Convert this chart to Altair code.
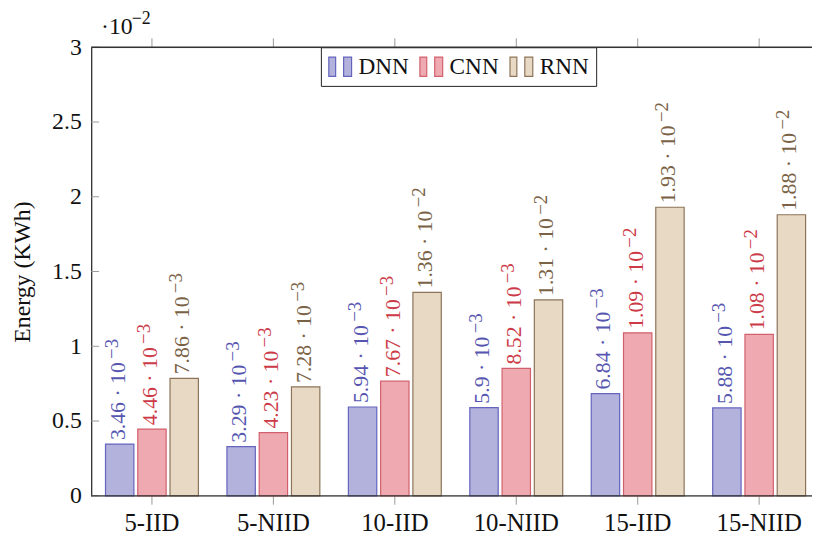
import altair as alt
import pandas as pd

# ---- data (values in units of 10^-2 KWh) ----
CATEGORIES = ["5-IID", "5-NIID", "10-IID", "10-NIID", "15-IID", "15-NIID"]
MODELS = ["DNN", "CNN", "RNN"]
DNN = [0.346, 0.329, 0.594, 0.590, 0.684, 0.588]
CNN = [0.446, 0.423, 0.767, 0.852, 1.09, 1.08]
RNN = [0.786, 0.728, 1.36, 1.31, 1.93, 1.88]
DNN_MANT = ["3.46", "3.29", "5.94", "5.9", "6.84", "5.88"]
CNN_MANT = ["4.46", "4.23", "7.67", "8.52", "1.09", "1.08"]
RNN_MANT = ["7.86", "7.28", "1.36", "1.31", "1.93", "1.88"]
DNN_EXP = ["−3", "−3", "−3", "−3", "−3", "−3"]
CNN_EXP = ["−3", "−3", "−3", "−3", "−2", "−2"]
RNN_EXP = ["−3", "−3", "−2", "−2", "−2", "−2"]
Y_TICKS = [0, 0.5, 1, 1.5, 2, 2.5, 3]
SCALE_BASE = "·10"
SCALE_EXP = "−2"

FILL = ["#b2b2dc", "#eeaab0", "#e8d9c4"]
STROKE = ["#6464be", "#d2606c", "#8c7458"]
TEXT = ["#5656b0", "#cc3a48", "#7a6246"]

FONT = "Liberation Serif"
W, H = 728, 453
XRANGE = 736   # the axis box continues past the right edge of the picture
LFS = 22      # bar label font size
SFS = 19      # superscript font size

rows = []
for m, vals, mants, exps in [("DNN", DNN, DNN_MANT, DNN_EXP), ("CNN", CNN, CNN_MANT, CNN_EXP),
                             ("RNN", RNN, RNN_MANT, RNN_EXP)]:
    for c, v, mt, e in zip(CATEGORIES, vals, mants, exps):
        rows.append({"cat": c, "model": m, "value": v, "mant": mt, "main": mt + " · 10", "exp": e})
df = pd.DataFrame(rows)

XSCALE = alt.Scale(domain=CATEGORIES, paddingInner=0.235, paddingOuter=0.118, range=[0, XRANGE])


def xenc():
    return alt.X("cat:N", sort=CATEGORIES, scale=XSCALE, axis=None)


def xoff():
    return alt.XOffset("model:N", sort=MODELS,
                       scale=alt.Scale(domain=MODELS, paddingInner=0.12, paddingOuter=0))


ys = alt.Y("value:Q",
           scale=alt.Scale(domain=[0, 3], nice=False),
           axis=alt.Axis(title="Energy (KWh)", titleFont=FONT, titleFontSize=24, titleFontWeight="normal",
                         titleColor="#111", titlePadding=17,
                         values=Y_TICKS, format="~g", labelFont=FONT, labelFontSize=24,
                         labelColor="#111", ticks=False, labelPadding=10, grid=False,
                         domainColor="#333", domainWidth=1.3))

legend_cfg = dict(title=None, orient="none", legendX=232, legendY=0, direction="horizontal",
                  symbolType="M-1,-0.85H-0.4V0.85H-1Z M0.3,-0.85H1V0.85H0.3Z",
                  symbolSize=529, symbolStrokeWidth=1.2,
                  labelFont=FONT, labelFontSize=23.5, labelColor="#111",
                  labelOffset=6, columnPadding=8, padding=7,
                  labelExpr="datum.label == 'RNN' ? 'RNN\u2002' : datum.label",
                  strokeColor="#222", fillColor="white")

bars = alt.Chart(df).mark_bar(strokeWidth=1.2).encode(
    x=xenc(), xOffset=xoff(), y=ys,
    fill=alt.Fill("model:N", scale=alt.Scale(domain=MODELS, range=FILL), legend=alt.Legend(**legend_cfg)),
    stroke=alt.Stroke("model:N", scale=alt.Scale(domain=MODELS, range=STROKE), legend=alt.Legend(**legend_cfg)),
)

label_color = alt.Color("model:N", scale=alt.Scale(domain=MODELS, range=TEXT), legend=None)

labels = alt.Chart(df).mark_text(angle=270, align="left", baseline="middle", dx=4, dy=-2,
                                 font=FONT, fontSize=LFS).encode(
    x=xenc(), xOffset=xoff(), y="value:Q",
    text="main:N", color=label_color,
)

sup_dx = f"4 + {LFS}*((length(datum.mant)-1)*0.5 + 0.25 + 1.75) + 5"
sups = alt.Chart(df).mark_text(angle=270, align="left", baseline="middle",
                               dx=alt.ExprRef(sup_dx), dy=-8,
                               font=FONT, fontSize=SFS).encode(
    x=xenc(), xOffset=xoff(), y="value:Q",
    text="exp:N", color=label_color,
)

ytick_df = pd.DataFrame({"t": Y_TICKS})
yticks = alt.Chart(ytick_df).mark_rule(color="#999", strokeWidth=1).encode(
    y="t:Q", x=alt.value(0), x2=alt.value(8))

cat_df = pd.DataFrame({"cat": CATEGORIES})
top_ticks = alt.Chart(cat_df).mark_rule(color="#999", strokeWidth=1).encode(
    x=xenc(), y=alt.value(-9), y2=alt.value(0))
bottom_ticks = alt.Chart(cat_df).mark_rule(color="#999", strokeWidth=1).encode(
    x=xenc(), y=alt.value(H), y2=alt.value(H + 9))
xlabels = alt.Chart(cat_df).mark_text(align="center", baseline="alphabetic", font=FONT,
                                      fontSize=25, color="#111").encode(
    x=xenc(), y=alt.value(H + 36), text="cat:N")

frame_df = pd.DataFrame({"f": [0]})
top_line = alt.Chart(frame_df).mark_rule(color="#333", strokeWidth=1.3).encode(
    x=alt.value(0), x2=alt.value(W), y=alt.value(0))
bottom_line = alt.Chart(frame_df).mark_rule(color="#333", strokeWidth=1.3).encode(
    x=alt.value(0), x2=alt.value(W), y=alt.value(H))

scale_df = pd.DataFrame({"b": [SCALE_BASE], "e": [SCALE_EXP]})
scale_base = alt.Chart(scale_df).mark_text(align="left", baseline="alphabetic", font=FONT,
                                           fontSize=24, color="#111").encode(
    text="b:N", x=alt.value(10), y=alt.value(-13))
scale_exp = alt.Chart(scale_df).mark_text(align="left", baseline="alphabetic", font=FONT,
                                          fontSize=18, color="#111").encode(
    text="e:N", x=alt.value(41), y=alt.value(-23))

chart = alt.layer(yticks, top_ticks, bottom_ticks, bars, labels, sups, xlabels,
                  top_line, bottom_line, scale_base, scale_exp).resolve_scale(
    color="independent"
).properties(
    width=W, height=H,
    autosize=alt.AutoSizeParams(type="none"),
    padding={"left": 84, "top": 37, "right": 0, "bottom": 44},
).configure_view(stroke=None).configure(background="white")

chart.save("out.html", embed_options={"renderer": "svg", "actions": False})
